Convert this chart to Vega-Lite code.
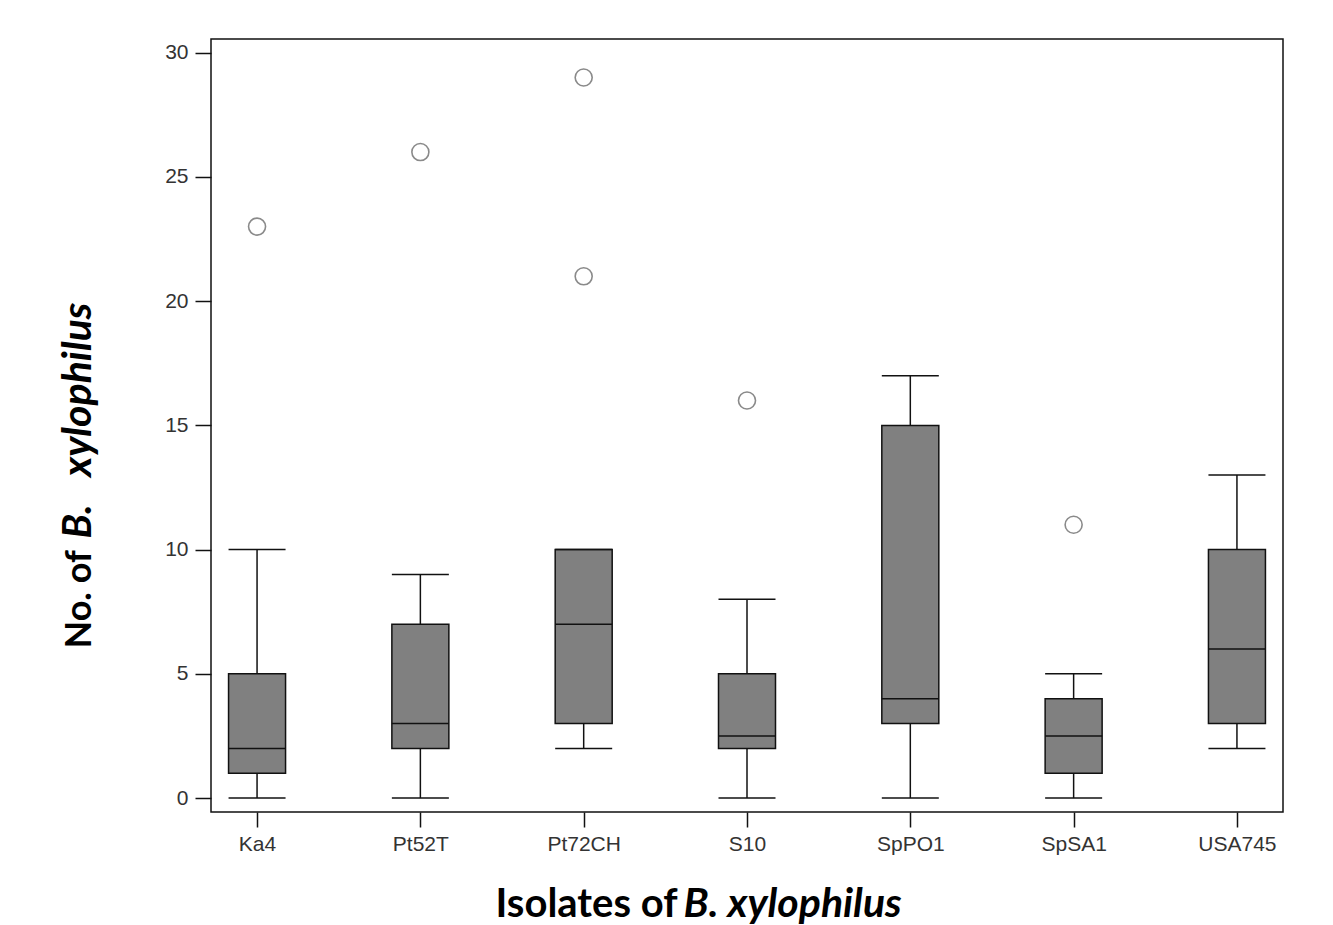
{
  "$schema": "https://vega.github.io/schema/vega-lite/v6.json",
  "width": 1072,
  "height": 773,
  "autosize": {"type": "none"},
  "padding": {"left": 211, "top": 39, "right": 50, "bottom": 113},
  "background": "white",
  "config": {
    "view": {"stroke": "#111", "strokeWidth": 1.5},
    "axis": {
      "domain": false,
      "grid": false,
      "tickColor": "#111",
      "tickWidth": 1.5,
      "labelFont": "Liberation Sans",
      "labelFontSize": 21,
      "labelColor": "#333",
      "titleFont": "Lato",
      "titleFontSize": 40,
      "titleFontWeight": "bold",
      "titleColor": "#000"
    }
  },
  "datasets": {
    "stats": [
      {"isolate": "Ka4", "min": 0, "q1": 1, "median": 2, "q3": 5, "max": 10},
      {"isolate": "Pt52T", "min": 0, "q1": 2, "median": 3, "q3": 7, "max": 9},
      {"isolate": "Pt72CH", "min": 2, "q1": 3, "median": 7, "q3": 10, "max": 10},
      {"isolate": "S10", "min": 0, "q1": 2, "median": 2.5, "q3": 5, "max": 8},
      {"isolate": "SpPO1", "min": 0, "q1": 3, "median": 4, "q3": 15, "max": 17},
      {"isolate": "SpSA1", "min": 0, "q1": 1, "median": 2.5, "q3": 4, "max": 5},
      {"isolate": "USA745", "min": 2, "q1": 3, "median": 6, "q3": 10, "max": 13}
    ],
    "outliers": [
      {"isolate": "Ka4", "value": 23},
      {"isolate": "Pt52T", "value": 26},
      {"isolate": "Pt72CH", "value": 29},
      {"isolate": "Pt72CH", "value": 21},
      {"isolate": "S10", "value": 16},
      {"isolate": "SpSA1", "value": 11}
    ]
  },
  "layer": [
    {
      "data": {"name": "stats"},
      "mark": {"type": "rule", "stroke": "#111", "strokeWidth": 1.5},
      "encoding": {
        "x": {"field": "isolate", "type": "nominal", "sort": null,
              "scale": {"type": "point", "padding": 0.282},
              "axis": {"labelAngle": 0, "tickSize": 15, "labelPadding": 6,
                       "title": "Isolates of", "titleAlign": "left", "titleBaseline": "alphabetic",
                       "titleAnchor": null, "titleX": 284, "titleY": 104}},
        "y": {"field": "min", "type": "quantitative",
              "scale": {"domain": [-0.56, 30.55], "nice": false, "zero": false},
              "axis": {"values": [0, 5, 10, 15, 20, 25, 30], "tickSize": 16, "labelPadding": 7,
                       "title": "No. of", "titleFontSize": 36, "titleAngle": -90, "titleAlign": "left", "titleBaseline": "alphabetic",
                       "titleAnchor": null, "titleX": -121, "titleY": 609}},
        "y2": {"field": "q1"}
      }
    },
    {
      "data": {"name": "stats"},
      "mark": {"type": "rule", "stroke": "#111", "strokeWidth": 1.5},
      "encoding": {
        "x": {"field": "isolate", "type": "nominal", "sort": null, "axis": null},
        "y": {"field": "q3", "type": "quantitative",
              "axis": {"orient": "left", "labels": false, "ticks": false, "domain": false,
                       "title": "B.", "titleFontStyle": "italic", "titleAngle": -90, "titleAlign": "left", "titleBaseline": "alphabetic",
                       "titleAnchor": null, "titleX": -121, "titleY": 499}},
        "y2": {"field": "max"}
      }
    },
    {
      "data": {"name": "stats"},
      "mark": {"type": "bar", "size": 57, "fill": "#808080", "stroke": "#111", "strokeWidth": 1.5},
      "encoding": {
        "x": {"field": "isolate", "type": "nominal", "sort": null, "axis": null},
        "y": {"field": "q1", "type": "quantitative", "axis": null},
        "y2": {"field": "q3"}
      }
    },
    {
      "data": {"name": "stats"},
      "mark": {"type": "tick", "size": 57, "thickness": 1.5, "color": "#111", "opacity": 1},
      "encoding": {
        "x": {"field": "isolate", "type": "nominal", "sort": null, "axis": null},
        "y": {"field": "median", "type": "quantitative", "axis": null}
      }
    },
    {
      "data": {"name": "stats"},
      "mark": {"type": "tick", "size": 57, "thickness": 1.5, "color": "#111", "opacity": 1},
      "encoding": {
        "x": {"field": "isolate", "type": "nominal", "sort": null, "axis": null},
        "y": {"field": "min", "type": "quantitative", "axis": null}
      }
    },
    {
      "data": {"name": "stats"},
      "mark": {"type": "tick", "size": 57, "thickness": 1.5, "color": "#111", "opacity": 1},
      "encoding": {
        "x": {"field": "isolate", "type": "nominal", "sort": null, "axis": null},
        "y": {"field": "max", "type": "quantitative", "axis": null}
      }
    },
    {
      "data": {"name": "outliers"},
      "mark": {"type": "point", "shape": "circle", "filled": false, "stroke": "#8a8a8a", "strokeWidth": 1.6, "size": 290, "opacity": 1},
      "encoding": {
        "x": {"field": "isolate", "type": "nominal", "sort": null,
              "axis": {"orient": "bottom", "labels": false, "ticks": false, "domain": false,
                       "title": "B. xylophilus", "titleFontSize": 41, "titleFontStyle": "italic", "titleAlign": "left", "titleBaseline": "alphabetic",
                       "titleAnchor": null, "titleX": 472, "titleY": 104}},
        "y": {"field": "value", "type": "quantitative",
              "axis": {"orient": "left", "labels": false, "ticks": false, "domain": false,
                       "title": "xylophilus", "titleFontSize": 41, "titleFontStyle": "italic", "titleAngle": -90, "titleAlign": "right", "titleBaseline": "alphabetic",
                       "titleAnchor": null, "titleX": -121, "titleY": 263}}
      }
    }
  ],
  "resolve": {"axis": {"x": "independent", "y": "independent"}}
}
